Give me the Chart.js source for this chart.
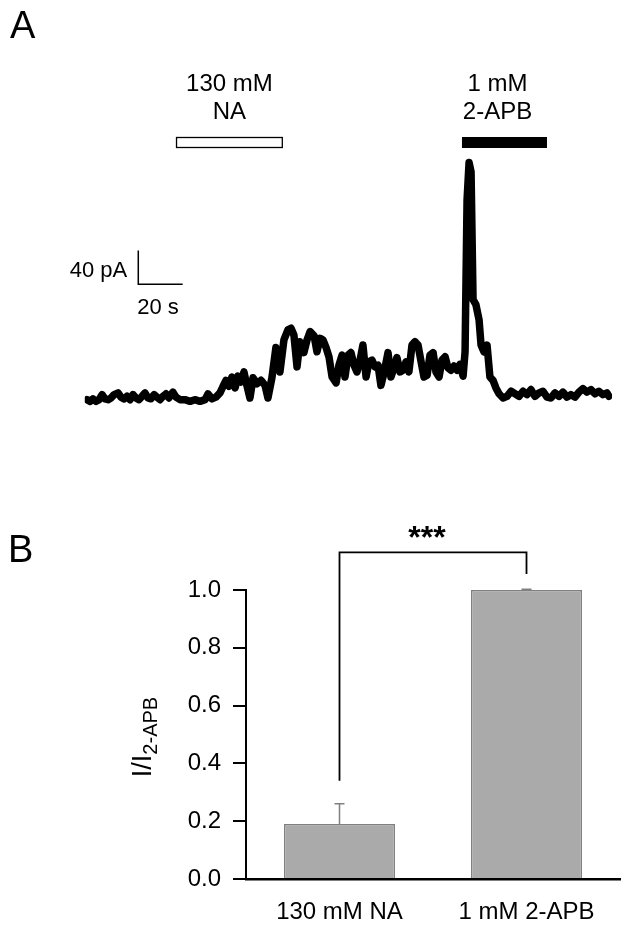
<!DOCTYPE html>
<html>
<head>
<meta charset="utf-8">
<script src="https://cdn.jsdelivr.net/npm/chart.js@4.4.1/dist/chart.umd.min.js"></script>
<style>
  html, body { margin: 0; padding: 0; background: #fff; }
  #wrap { position: relative; width: 628px; height: 928px; overflow: hidden; }
  #traceChart { position: absolute; left: 0; top: 0; }
  #barChart { position: absolute; left: 0; top: 460px; }
</style>
</head>
<body>
<div id="wrap">
  <canvas id="traceChart" width="628" height="460"></canvas>
  <canvas id="barChart" width="628" height="468"></canvas>
</div>
<script>
// ---- Panel A: whole-cell current trace (time in s, current in pA) ----
const traceTime = [
  0, 1.4, 2.7, 4.1, 5.4, 6.8, 8.1, 9.5, 10.8, 12.2,
  14.0, 15.3, 16.7, 18.0, 19.4, 20.7, 22.1, 23.4, 24.8, 26.1,
  27.5, 28.8, 30.2, 31.5, 32.9, 34.2, 35.6, 36.9, 38.7, 40.1,
  41.9, 44.1, 46.4, 48.6, 50.9, 53.2, 54.5, 56.3, 58.1, 59.9,
  61.3, 62.6, 64.0, 65.3, 66.7, 68.0, 69.4, 70.7, 72.1, 73.4,
  74.8, 76.6, 78.4, 80.2, 81.5, 83.3, 85.1, 86.9, 88.7, 90.5,
  91.9, 93.2, 94.6, 95.9, 97.7, 99.1, 100.5, 102.3, 103.6, 105.0,
  106.3, 107.7, 109.0, 110.4, 112.2, 113.5, 114.9, 116.2, 117.6, 118.9,
  120.3, 121.6, 123.0, 124.3, 125.7, 127.0, 128.4, 129.7, 131.1, 132.4,
  133.8, 135.6, 136.9, 138.3, 139.6, 141.0, 142.3, 143.7, 145.0, 146.4,
  147.7, 149.1, 150.5, 151.8, 153.2, 154.5, 155.9, 157.2, 158.6, 159.9,
  161.3, 162.6, 164.0, 165.3, 166.7, 168.0, 169.4, 170.3, 171.2, 172.1,
  173.0, 173.9, 175.2, 176.6, 177.5, 178.8, 180.2, 181.5, 182.9, 184.2,
  185.6, 187.4, 189.2, 191.0, 192.8, 194.6, 196.4, 198.2, 200.0, 201.8,
  203.6, 205.4, 207.2, 209.0, 210.8, 212.6, 214.4, 216.2, 218.0, 219.8,
  221.6, 223.4, 225.2, 227.0, 228.8, 230.6, 232.4, 234.2, 235.1
];
const traceCurrent = [
  -2, -4, -1, -4, -2, 4, -1, -2, 0, 4,
  6, 1, -1, 2, -2, 4, 0, -2, 2, 6,
  0, -1, 4, 1, -2, 2, 5, 0, 7, 1,
  -2, -2, -4, -2, -4, -2, 5, -1, 1, 6,
  14, 21, 14, 25, 12, 26, 19, 31, 14, 0,
  24, 17, 21, 15, 0, 24, 60, 31, 69, 81,
  83, 75, 37, 67, 54, 69, 79, 74, 55, 71,
  69, 60, 49, 25, 18, 39, 51, 25, 51, 54,
  39, 31, 45, 63, 25, 43, 45, 37, 39, 15,
  30, 54, 25, 36, 48, 31, 33, 43, 31, 63,
  67, 63, 43, 25, 27, 51, 54, 31, 25, 45,
  49, 36, 33, 38, 33, 40, 26, 55, 236, 280,
  269, 117, 111, 93, 63, 55, 63, 25, 21, 12,
  5, 0, 2, 8, 5, 2, 8, 4, 10, 2,
  6, 8, 1, 0, 6, 2, 7, 1, 4, 1,
  7, 11, 7, 10, 5, 8, 4, 6, 2
];

// drug applications (s)
const appLabels = [['130 mM', 'NA'], ['1 mM', '2-APB']];
const appStart = [40.1, 168.9];
const appEnd = [88.2, 207.2];
const appFilled = [false, true];

// scale bar sizes
const scaleBarTime = 20;     // s
const scaleBarCurrent = 40;  // pA

// ---- Panel B: normalised current I/I(2-APB) ----
const barLabels = ['130 mM NA', '1 mM 2-APB'];
const barMeans = [0.19, 1.0];
const barSems = [0.07, 0.003];
const sigLabel = '***';

const FONT = '"Liberation Sans", Arial, Helvetica, sans-serif';

const tracePlugin = {
    id: 'traceDecor',
    afterDraw(chart) {
        const ctx = chart.ctx;
        const xs = chart.scales.x;
        const ys = chart.scales.y;
        ctx.save();
        ctx.fillStyle = '#000';
        ctx.strokeStyle = '#000';

        // panel letter
        ctx.font = '38px ' + FONT;
        ctx.textAlign = 'left';
        ctx.textBaseline = 'alphabetic';
        ctx.fillText('A', 10, 38);

        // application bars and labels
        ctx.font = '24px ' + FONT;
        ctx.textAlign = 'center';
        appLabels.forEach(function(lines, i) {
            const x0 = xs.getPixelForValue(appStart[i]);
            const x1 = xs.getPixelForValue(appEnd[i]);
            const cx = (x0 + x1) / 2 + (i === 1 ? -7 : 0);
            ctx.fillText(lines[0], cx, 91);
            ctx.fillText(lines[1], cx, 119);
            if (appFilled[i]) {
                ctx.fillRect(x0, 137, x1 - x0, 11);
            } else {
                ctx.lineWidth = 1.3;
                ctx.strokeRect(x0 + 0.5, 137.5, x1 - x0 - 1, 10);
            }
        });

        // scale bar
        const sx = xs.getPixelForValue(23.1);
        const sy = ys.getPixelForValue(135.4);
        const sxEnd = xs.getPixelForValue(23.1 + scaleBarTime);
        const syTop = ys.getPixelForValue(135.4 + scaleBarCurrent);
        ctx.lineWidth = 1.5;
        ctx.beginPath();
        ctx.moveTo(sx, syTop);
        ctx.lineTo(sx, sy);
        ctx.lineTo(sxEnd, sy);
        ctx.stroke();
        ctx.font = '22px ' + FONT;
        ctx.textAlign = 'right';
        ctx.fillText(scaleBarCurrent + ' pA', sx - 11, sy - 7.5);
        ctx.textAlign = 'left';
        ctx.fillText(scaleBarTime + ' s', sx - 1, sy + 30);
        ctx.restore();
    }
};

new Chart(document.getElementById('traceChart'), {
    type: 'line',
    data: {
        datasets: [{
            label: 'Current',
            data: traceTime.map((t, i) => ({ x: t, y: traceCurrent[i] })),
            borderColor: '#000',
            borderWidth: 7.5,
            borderJoinStyle: 'round',
            borderCapStyle: 'round',
            pointRadius: 0,
            tension: 0,
            fill: false
        }]
    },
    options: {
        responsive: false,
        animation: false,
        events: [],
        layout: { padding: { left: 84.78, right: 15.97, top: 150, bottom: 50.24 } },
        plugins: { legend: { display: false }, tooltip: { enabled: false } },
        scales: {
            x: { type: 'linear', min: -1, max: 236.5, display: false },
            y: { min: -14, max: 295, display: false }
        }
    },
    plugins: [tracePlugin]
});

const barPlugin = {
    id: 'barDecor',
    afterDraw(chart) {
        const ctx = chart.ctx;
        const ys = chart.scales.y;
        const meta = chart.getDatasetMeta(0);
        ctx.save();

        // error bars
        ctx.strokeStyle = '#808080';
        ctx.lineWidth = 1.5;
        meta.data.forEach(function(bar, i) {
            const cx = bar.x;
            const yTop = ys.getPixelForValue(barMeans[i] + barSems[i]);
            ctx.beginPath();
            ctx.moveTo(cx, ys.getPixelForValue(barMeans[i]));
            ctx.lineTo(cx, yTop);
            ctx.moveTo(cx - 5, yTop);
            ctx.lineTo(cx + 5, yTop);
            ctx.stroke();
        });

        // significance bracket
        const xa = meta.data[0].x;
        const xb = meta.data[1].x;
        const yTopB = ys.getPixelForValue(1.13);
        ctx.strokeStyle = '#000';
        ctx.lineWidth = 1.8;
        ctx.beginPath();
        ctx.moveTo(xa, ys.getPixelForValue(0.34));
        ctx.lineTo(xa, yTopB);
        ctx.lineTo(xb, yTopB);
        ctx.lineTo(xb, ys.getPixelForValue(1.055));
        ctx.stroke();
        ctx.fillStyle = '#000';
        ctx.font = 'bold 32px ' + FONT;
        ctx.textAlign = 'center';
        ctx.textBaseline = 'alphabetic';
        ctx.fillText(sigLabel, (xa + xb) / 2 - 6, yTopB - 4);

        // panel letter
        ctx.font = '38px ' + FONT;
        ctx.textAlign = 'left';
        ctx.fillText('B', 8, 102);

        // y-axis title I/I(2-APB)
        ctx.translate(151, 277);
        ctx.rotate(-Math.PI / 2);
        ctx.font = '27px ' + FONT;
        const wMain = ctx.measureText('I/I').width;
        ctx.font = '20px ' + FONT;
        const wSub = ctx.measureText('2-APB').width;
        const start = -(wMain + wSub) / 2;
        ctx.textAlign = 'left';
        ctx.font = '27px ' + FONT;
        ctx.fillText('I/I', start, 0);
        ctx.font = '20px ' + FONT;
        ctx.fillText('2-APB', start + wMain, 6);
        ctx.restore();
    }
};

new Chart(document.getElementById('barChart'), {
    type: 'bar',
    data: {
        labels: barLabels,
        datasets: [{
            label: 'I/I2-APB',
            data: barMeans,
            backgroundColor: '#aaaaaa',
            borderColor: '#808080',
            borderWidth: 1.5,
            barPercentage: 0.594,
            categoryPercentage: 1.0
        }]
    },
    options: {
        responsive: false,
        animation: false,
        events: [],
        layout: { padding: { left: 0, right: 8, top: 130, bottom: 0 } },
        plugins: { legend: { display: false }, tooltip: { enabled: false } },
        scales: {
            x: {
                grid: { display: false, drawTicks: false },
                border: { display: true, color: '#000', width: 2.5 },
                ticks: { color: '#000', font: { family: FONT, size: 24 }, padding: 19 },
                afterFit: s => { s.height = 49; }
            },
            y: {
                min: 0,
                max: 1,
                ticks: {
                    stepSize: 0.2,
                    color: '#000',
                    font: { family: FONT, size: 24 },
                    padding: 12,
                    callback: v => v.toFixed(1)
                },
                grid: { drawOnChartArea: false, drawTicks: true, tickLength: 13, color: '#000', lineWidth: 2 },
                border: { display: true, color: '#000', width: 2 },
                afterFit: s => { s.width = 246; }
            }
        }
    },
    plugins: [barPlugin]
});
</script>
</body>
</html>
